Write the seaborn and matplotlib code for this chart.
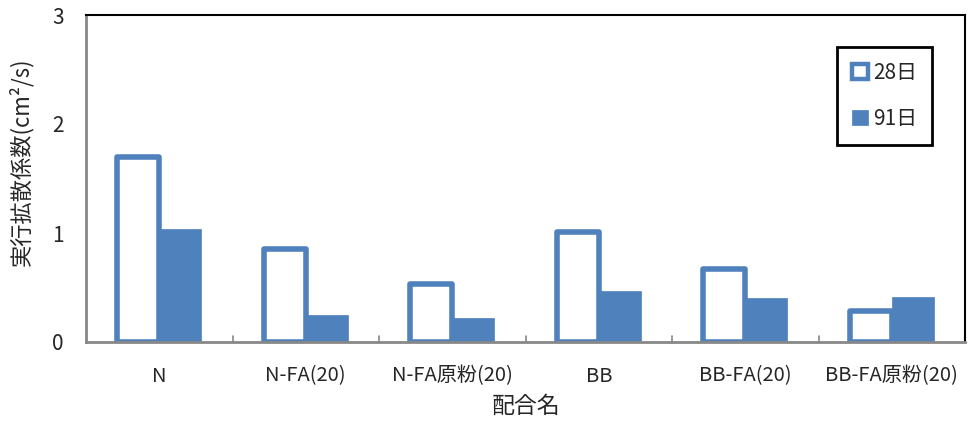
import matplotlib
matplotlib.use("Agg")
import matplotlib.pyplot as plt
from matplotlib.patches import Patch
import seaborn as sns
import pandas as pd

categories = ["N", "N-FA(20)", "N-FA原粉(20)", "BB", "BB-FA(20)", "BB-FA原粉(20)"]
series_names = ["28日", "91日"]
values_28 = [1.70, 0.85, 0.53, 1.01, 0.67, 0.28]
values_91 = [1.04, 0.25, 0.22, 0.47, 0.40, 0.41]
y_ticks = [0, 1, 2, 3]

sns.set_theme(style="white")
plt.rcParams['font.family'] = ['Noto Sans CJK JP', 'DejaVu Sans']

df = pd.DataFrame({
    "配合名": categories * 2,
    "value": values_28 + values_91,
    "age": [series_names[0]] * len(categories) + [series_names[1]] * len(categories),
})

blue = "#4F81BD"
fig = plt.figure(figsize=(9.68, 4.25), dpi=100)
ax = fig.add_axes([86/968, 1 - 342/425, (965-86)/968, (342-15)/425])

sns.barplot(data=df, x="配合名", y="value", hue="age", order=categories,
            hue_order=series_names, palette=[blue, blue], width=0.57, gap=0,
            ax=ax, legend=False, saturation=1)

n = len(categories)
for p in ax.patches[:n]:
    p.set_facecolor("white")
    p.set_edgecolor(blue)
    p.set_linewidth(4)
    p.set_joinstyle("round")
for p in ax.patches[n:2*n]:
    p.set_facecolor(blue)
    p.set_edgecolor(blue)
    p.set_linewidth(0.5)

ax.set_ylim(0, 3)
ax.set_xlim(-0.5, n - 0.5)
ax.set_yticks(y_ticks)
ax.set_yticklabels([str(t) for t in y_ticks], fontsize=15)
ax.tick_params(axis="y", length=0, pad=16)
ax.set_xticks(range(n))
ax.set_xticklabels(categories, fontsize=14.5)
ax.tick_params(axis="x", length=0, pad=17)
for b in range(1, n):
    ax.axvline(b - 0.5, ymin=0, ymax=0.017, color="#888888", lw=1.2, zorder=3)

ax.set_ylabel("実行拡散係数(cm²/s)", fontsize=16)
ax.set_xlabel("配合名", fontsize=16.5, labelpad=6)
ax.yaxis.set_label_coords(-0.060, 0.55)

for side in ["left", "bottom"]:
    ax.spines[side].set_color("#888888")
    ax.spines[side].set_linewidth(2)
for side in ["top", "right"]:
    ax.spines[side].set_color("black")
    ax.spines[side].set_linewidth(1.5)
for s in ax.spines.values():
    s.set_zorder(5)

handles = [Patch(facecolor="white", edgecolor=blue, linewidth=3.2, joinstyle="round", label=series_names[0]),
           Patch(facecolor=blue, edgecolor=blue, linewidth=0.5, label=series_names[1])]
leg = ax.legend(handles=handles, loc="upper right", bbox_to_anchor=(0.9625, 0.902), borderaxespad=0,
                fontsize=15, frameon=True, fancybox=False, edgecolor="black",
                handlelength=0.75, handleheight=0.75, handletextpad=0.25,
                labelspacing=1.15, borderpad=0.72)
leg.get_frame().set_linewidth(2)
leg.get_frame().set_alpha(1)

fig.savefig("out.png", dpi=100)
